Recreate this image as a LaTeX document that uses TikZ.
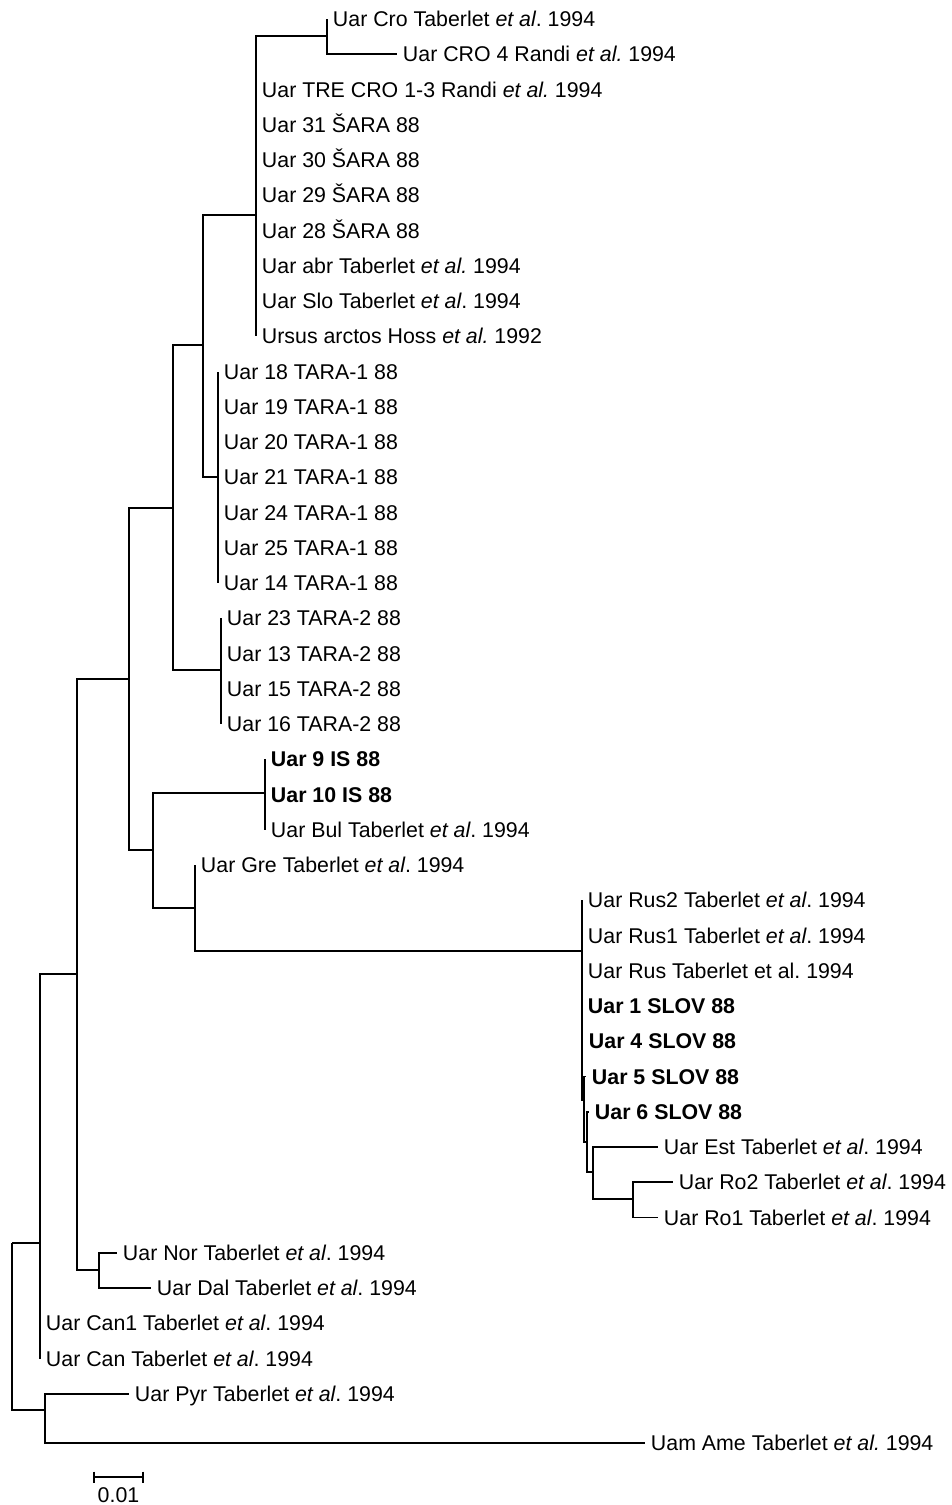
\documentclass[tikz,border=0pt]{standalone}
\usepackage{fontspec}
\setmainfont{Liberation Sans}
\usepackage{tikz}
\frenchspacing

\begin{document}
\begin{tikzpicture}[x=0.02cm,y=-0.02cm,line width=1pt,
    leaf/.style={anchor=west,inner xsep=3.4pt,inner ysep=0pt,outer sep=0pt,
      text height=8.6pt,text depth=0pt,font=\fontsize{12.15}{14}\selectfont},
    ours/.style={leaf,font=\fontsize{12.15}{14}\selectfont\bfseries}]
        \useasboundingbox (0,0) rectangle (951,1505);
        % inner nodes
        \coordinate (root) at (12,1243);
        \coordinate (a) at (40,1243);
        \coordinate (p) at (45,1410);
        \coordinate (b) at (77,974);
        \coordinate (nd) at (99,1270);
        \coordinate (c) at (129,679);
        \coordinate (nv) at (173,508);
        \coordinate (niii) at (203,345);
        \coordinate (nii) at (256,215);
        \coordinate (ni) at (327,36);
        \coordinate (niv) at (218,477);
        \coordinate (nvi) at (221,670);
        \coordinate (e) at (153,850);
        \coordinate (f) at (265,793);
        \coordinate (g) at (195,908);
        \coordinate (h) at (582,951);
        \coordinate (i) at (584,1100);
        \coordinate (k) at (587,1142);
        \coordinate (l) at (593,1172);
        \coordinate (m) at (633,1199);
        % leaves
        \node[leaf] (cro) at (327,19) {Uar Cro Taberlet {\itshape et al}. 1994};
        \node[leaf] (croiv) at (397,54.25) {Uar CRO 4 Randi {\itshape et al.} 1994};
        \node[leaf] (tre) at (256,89.5) {Uar TRE CRO 1-3 Randi {\itshape et al.} 1994};
        \node[leaf] (s31) at (256,124.75) {Uar 31 ŠARA 88};
        \node[leaf] (s30) at (256,160) {Uar 30 ŠARA 88};
        \node[leaf] (s29) at (256,195.25) {Uar 29 ŠARA 88};
        \node[leaf] (s28) at (256,230.5) {Uar 28 ŠARA 88};
        \node[leaf] (abr) at (256,265.75) {Uar abr Taberlet {\itshape et al.} 1994};
        \node[leaf] (slo) at (256,301) {Uar Slo Taberlet {\itshape et al}. 1994};
        \node[leaf] (hoss) at (256,336.25) {Ursus arctos Hoss {\itshape et al.} 1992};
        \node[leaf] (t18) at (218,371.5) {Uar 18 TARA-1 88};
        \node[leaf] (t19) at (218,406.75) {Uar 19 TARA-1 88};
        \node[leaf] (t20) at (218,442) {Uar 20 TARA-1 88};
        \node[leaf] (t21) at (218,477.25) {Uar 21 TARA-1 88};
        \node[leaf] (t24) at (218,512.5) {Uar 24 TARA-1 88};
        \node[leaf] (t25) at (218,547.75) {Uar 25 TARA-1 88};
        \node[leaf] (t14) at (218,583) {Uar 14 TARA-1 88};
        \node[leaf] (t23) at (221,618.25) {Uar 23 TARA-2 88};
        \node[leaf] (t13) at (221,653.5) {Uar 13 TARA-2 88};
        \node[leaf] (t15) at (221,688.75) {Uar 15 TARA-2 88};
        \node[leaf] (t16) at (221,724) {Uar 16 TARA-2 88};
        \node[ours] (is9) at (265,759.25) {Uar 9 IS 88};
        \node[ours] (is10) at (265,794.5) {Uar 10 IS 88};
        \node[leaf] (bul) at (265,829.75) {Uar Bul Taberlet {\itshape et al}. 1994};
        \node[leaf] (gre) at (195,865) {Uar Gre Taberlet {\itshape et al}. 1994};
        \node[leaf] (rustwo) at (582,900.25) {Uar Rus2 Taberlet {\itshape et al}. 1994};
        \node[leaf] (rusone) at (582,935.5) {Uar Rus1 Taberlet {\itshape et al}. 1994};
        \node[leaf] (rus) at (582,970.75) {Uar Rus Taberlet et al. 1994};
        \node[ours] (slone) at (582,1006) {Uar 1 SLOV 88};
        \node[ours] (slfour) at (583,1041.25) {Uar 4 SLOV 88};
        \node[ours] (slfive) at (586,1076.5) {Uar 5 SLOV 88};
        \node[ours] (slsix) at (589,1111.75) {Uar 6 SLOV 88};
        \node[leaf] (est) at (658,1147) {Uar Est Taberlet {\itshape et al}. 1994};
        \node[leaf] (rotwo) at (673,1182.25) {Uar Ro2 Taberlet {\itshape et al}. 1994};
        \node[leaf] (roone) at (658,1217.5) {Uar Ro1 Taberlet {\itshape et al}. 1994};
        \node[leaf] (nor) at (117,1252.75) {Uar Nor Taberlet {\itshape et al}. 1994};
        \node[leaf] (dal) at (151,1288) {Uar Dal Taberlet {\itshape et al}. 1994};
        \node[leaf] (canone) at (40,1323.25) {Uar Can1 Taberlet {\itshape et al}. 1994};
        \node[leaf] (can) at (40,1358.5) {Uar Can Taberlet {\itshape et al}. 1994};
        \node[leaf] (pyr) at (129,1393.75) {Uar Pyr Taberlet {\itshape et al}. 1994};
        \node[leaf] (ame) at (645,1443) {Uam Ame Taberlet {\itshape et al.} 1994};
        % branches
        \draw (root) |- (a);
        \draw (root) |- (p);
        \draw (a) |- (b);
        \foreach \n in {canone,can} \draw (a) |- (\n.west);
        \draw (b) |- (c);
        \draw (b) |- (nd);
        \foreach \n in {nor,dal} \draw (nd) |- (\n.west);
        \draw (c) |- (nv);
        \draw (c) |- (e);
        \draw (nv) |- (niii);
        \draw (nv) |- (nvi);
        \draw (niii) |- (nii);
        \draw (niii) |- (niv);
        \draw (nii) |- (ni);
        \foreach \n in {cro,croiv} \draw (ni) |- (\n.west);
        \foreach \n in {tre,s31,s30,s29,s28,abr,slo,hoss} \draw (nii) |- (\n.west);
        \foreach \n in {t18,t19,t20,t21,t24,t25,t14} \draw (niv) |- (\n.west);
        \foreach \n in {t23,t13,t15,t16} \draw (nvi) |- (\n.west);
        \draw (e) |- (f);
        \draw (e) |- (g);
        \foreach \n in {is9,is10,bul} \draw (f) |- (\n.west);
        \draw (g) |- (gre.west);
        \draw (g) |- (h);
        \foreach \n in {rustwo,rusone,rus,slone,slfour} \draw (h) |- (\n.west);
        \draw (h) |- (i);
        \draw (i) |- (slfive.west);
        \draw (i) |- (k);
        \draw (k) |- (slsix.west);
        \draw (k) |- (l);
        \draw (l) |- (est.west);
        \draw (l) |- (m);
        \foreach \n in {rotwo,roone} \draw (m) |- (\n.west);
        \foreach \n in {pyr,ame} \draw (p) |- (\n.west);
        % scale bar
        \coordinate (sbl) at (94,1477);
        \coordinate (sbr) at (143,1477);
        \draw (sbl) -- (sbr);
        \draw (sbl) ++(0,-5.5) -- ++(0,11);
        \draw (sbr) ++(0,-5.5) -- ++(0,11);
        \node[font=\fontsize{12.15}{14}\selectfont] (sbtext) at (118.5,1495) {0.01};
    \end{tikzpicture}
\end{document}
